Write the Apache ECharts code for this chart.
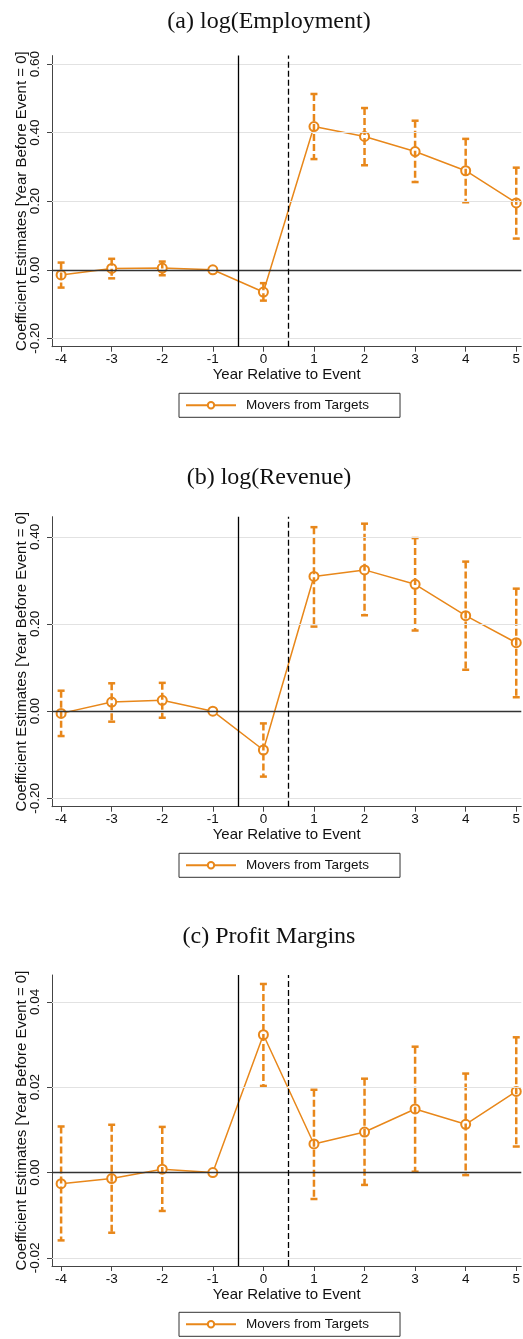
<!DOCTYPE html>
<html><head><meta charset="utf-8">
<script src="https://cdn.jsdelivr.net/npm/echarts@6/dist/echarts.min.js"></script>
<style>html,body{margin:0;padding:0;background:#fff}#c{width:523px;height:1339px}</style>
</head><body><div id="c"></div>
<script>
// ---------- data ----------
const years = [-4, -3, -2, -1, 0, 1, 2, 3, 4, 5];

const empCoef = [-0.015, 0.004, 0.005, 0, -0.065, 0.418, 0.389, 0.345, 0.289, 0.195];
const empLow  = [-0.052, -0.025, -0.016, null, -0.090, 0.323, 0.305, 0.256, 0.197, 0.091];
const empHigh = [0.021, 0.032, 0.024, null, -0.039, 0.513, 0.472, 0.435, 0.382, 0.298];

const revCoef = [-0.005, 0.021, 0.025, 0, -0.089, 0.309, 0.324, 0.291, 0.219, 0.157];
const revLow  = [-0.057, -0.024, -0.015, null, -0.150, 0.194, 0.220, 0.185, 0.095, 0.032];
const revHigh = [0.047, 0.064, 0.065, null, -0.028, 0.422, 0.430, 0.397, 0.343, 0.281];

const marCoef = [-0.0026, -0.0014, 0.0008, 0, 0.0323, 0.0067, 0.0095, 0.0149, 0.0113, 0.0190];
const marLow  = [-0.0159, -0.0141, -0.0090, null, 0.0203, -0.0062, -0.0029, 0.0002, -0.0006, 0.0061];
const marHigh = [0.0108, 0.0112, 0.0107, null, 0.0442, 0.0194, 0.0220, 0.0295, 0.0232, 0.0317];

const empTicks = [-0.2, 0, 0.2, 0.4, 0.6];
const revTicks = [-0.2, 0, 0.2, 0.4];
const marTicks = [-0.02, 0, 0.02, 0.04];
const xTicks = [-4, -3, -2, -1, 0, 1, 2, 3, 4, 5];

const titles = ['(a) log(Employment)', '(b) log(Revenue)', '(c) Profit Margins'];
const seriesName = 'Movers from Targets';
const xName = 'Year Relative to Event';
const yName = 'Coefficient Estimates [Year Before Event = 0]';
const eventLines = [-0.5, 0.5];

// ---------- layout ----------
const ORANGE = '#E8871A';
const SANS = 'Liberation Sans';
const panels = [
  {coef: empCoef, low: empLow, high: empHigh, ticks: empTicks, top: 55.6, height: 291.1, min: -0.2245, max: 0.625, titleTop: 10, legendTop: 393.3},
  {coef: revCoef, low: revLow, high: revHigh, ticks: revTicks, top: 516.7, height: 290, min: -0.219, max: 0.446, titleTop: 466, legendTop: 853.3},
  {coef: marCoef, low: marLow, high: marHigh, ticks: marTicks, top: 975, height: 291, min: -0.0219, max: 0.0463, titleTop: 925, legendTop: 1312.3}
];

function errRender(params, api) {
  const x = api.value(0), lo = api.value(1), hi = api.value(2);
  const pLo = api.coord([x, lo]), pHi = api.coord([x, hi]);
  const hw = 3.5;
  const solid = {stroke: ORANGE, lineWidth: 2.5};
  return {type: 'group', children: [
    {type: 'line', shape: {x1: pHi[0], y1: pHi[1], x2: pLo[0], y2: pLo[1]}, style: {stroke: ORANGE, lineWidth: 2.5, lineDash: [7, 3]}},
    {type: 'line', shape: {x1: pHi[0] - hw, y1: pHi[1], x2: pHi[0] + hw, y2: pHi[1]}, style: solid},
    {type: 'line', shape: {x1: pLo[0] - hw, y1: pLo[1], x2: pLo[0] + hw, y2: pLo[1]}, style: solid}
  ]};
}

const option = {
  animation: false,
  backgroundColor: '#fff',
  title: panels.map((p, k) => ({
    text: titles[k], left: 269, top: p.titleTop, textAlign: 'center', padding: 0,
    textStyle: {fontFamily: 'Liberation Serif', fontSize: 24, fontWeight: 'normal', color: '#111'}
  })),
  legend: panels.map(p => ({
    data: [seriesName], left: 179, top: p.legendTop, itemWidth: 50, itemHeight: 8,
    padding: [5, 31, 5, 6], borderColor: '#333', borderWidth: 1, selectedMode: false,
    textStyle: {fontFamily: SANS, fontSize: 13.5, color: '#111', padding: [0, 0, 0, 5]}
  })),
  grid: panels.map(p => ({left: 52, right: 0, top: p.top, height: p.height, containLabel: false})),
  xAxis: panels.map((p, k) => ({
    type: 'value', gridIndex: k, min: -4.18, max: 5.1,
    name: xName, nameLocation: 'middle', nameGap: 21, nameMoveOverlap: false,
    nameTextStyle: {fontFamily: SANS, fontSize: 15, color: '#111'},
    axisLine: {onZero: false, lineStyle: {color: '#444', width: 1}},
    axisTick: {show: true, length: 5, customValues: xTicks, lineStyle: {color: '#444'}},
    axisLabel: {customValues: xTicks, margin: 6, fontFamily: SANS, fontSize: 13.5, color: '#111'},
    splitLine: {show: false}
  })),
  yAxis: panels.map((p, k) => ({
    type: 'value', gridIndex: k, min: p.min, max: p.max,
    name: yName, nameLocation: 'middle', nameRotate: 90, nameGap: 22.5, nameMoveOverlap: false,
    nameTextStyle: {fontFamily: SANS, fontSize: 15, color: '#111'},
    axisLine: {show: true, onZero: false, lineStyle: {color: '#444', width: 1}},
    axisTick: {show: true, length: 5, customValues: p.ticks, lineStyle: {color: '#444'}},
    axisLabel: {customValues: p.ticks, rotate: 90, margin: 9.5, fontFamily: SANS, fontSize: 13.5, color: '#111',
      formatter: v => v.toFixed(2)},
    splitLine: {show: false}
  })),
  series: []
};

panels.forEach((p, k) => {
  option.series.push({
    type: 'line', name: 'refs' + k, xAxisIndex: k, yAxisIndex: k, data: [], silent: true, z: 1,
    markLine: {
      symbol: 'none', silent: true, label: {show: false},
      data: [
        ...p.ticks.filter(t => t !== 0).map(t => ({yAxis: t, lineStyle: {color: '#e2e2e2', width: 1, type: 'solid'}})),
        {yAxis: 0, lineStyle: {color: '#333', width: 1.4, type: 'solid'}},
        {xAxis: eventLines[0], lineStyle: {color: '#000', width: 1.3, type: 'solid'}},
        {xAxis: eventLines[1], lineStyle: {color: '#000', width: 1.3, type: [6, 3]}}
      ]
    }
  });
  option.series.push({
    type: 'line', name: seriesName, xAxisIndex: k, yAxisIndex: k, z: 3,
    data: years.map((x, i) => [x, p.coef[i]]),
    symbol: 'emptyCircle', symbolSize: 9,
    lineStyle: {color: ORANGE, width: 1.5},
    itemStyle: {color: ORANGE, borderColor: ORANGE, borderWidth: 1.3},
    emphasis: {disabled: true}
  });
  option.series.push({
    type: 'custom', name: 'ci' + k, xAxisIndex: k, yAxisIndex: k, z: 4, silent: true,
    renderItem: errRender, encode: {x: 0, y: [1, 2]},
    data: years.map((x, i) => [x, p.low[i], p.high[i]]).filter(d => d[1] !== null)
  });
});

const chart = echarts.init(document.getElementById('c'), null, {renderer: 'canvas'});
chart.setOption(option);
</script>
</body></html>
